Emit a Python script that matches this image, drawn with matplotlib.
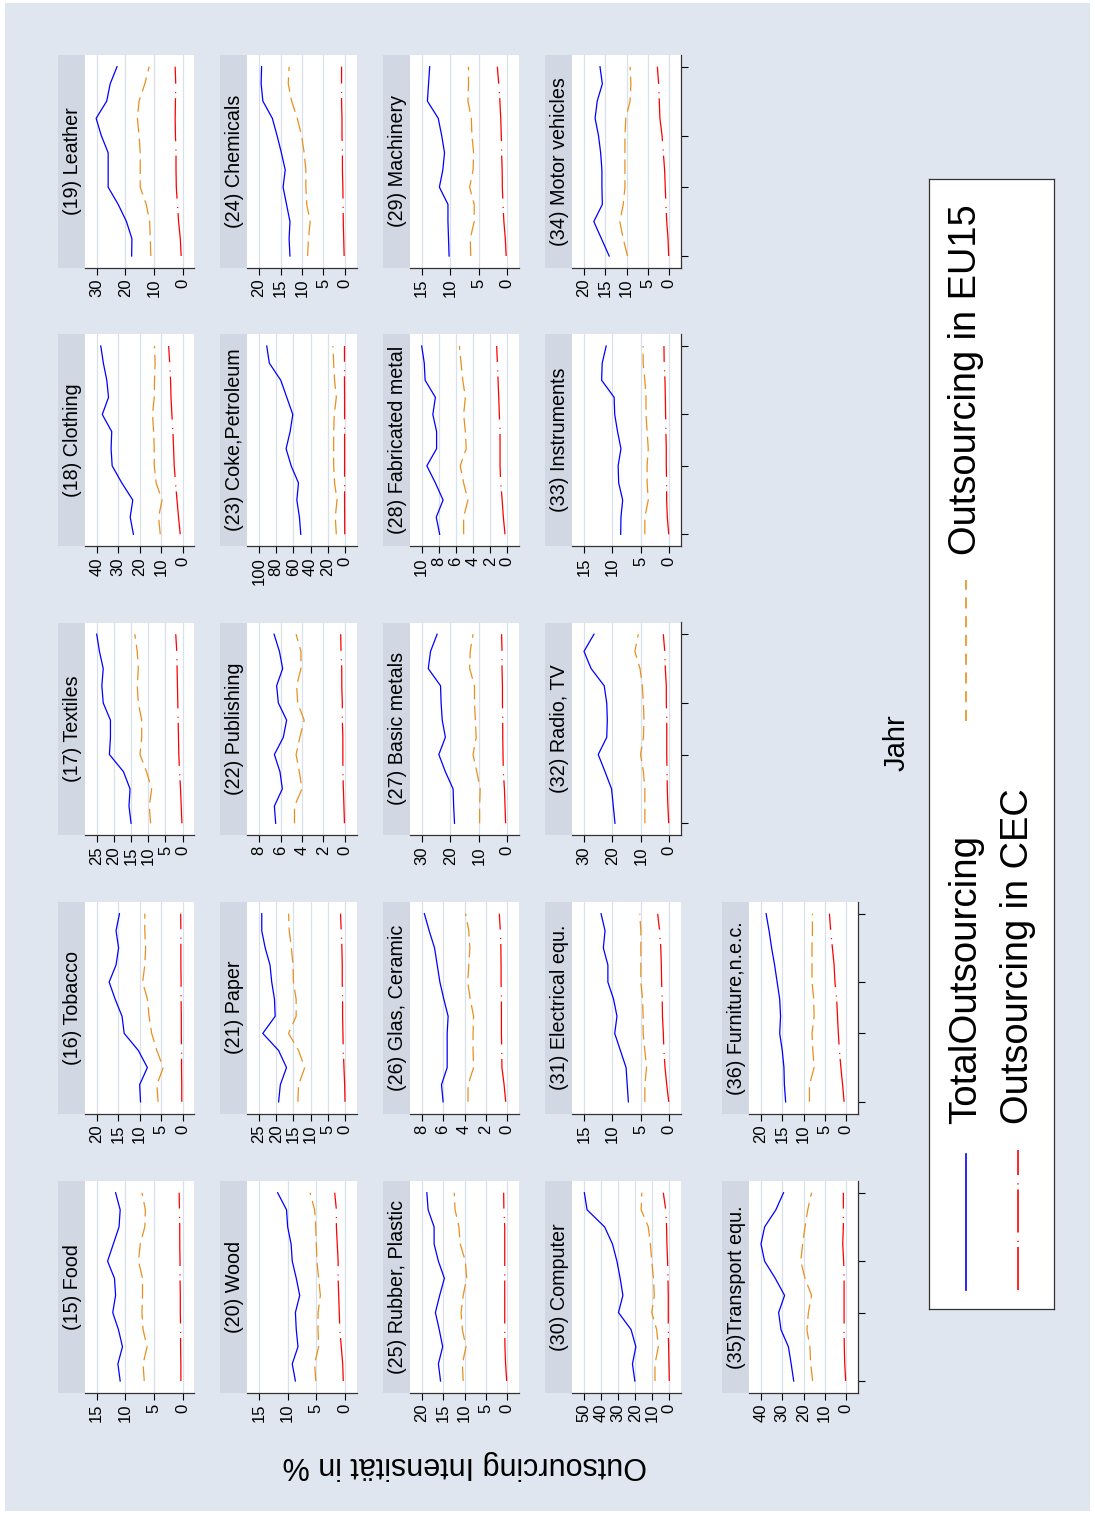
import matplotlib
matplotlib.use('Agg')
import matplotlib.pyplot as plt

plt.rcParams['font.family'] = ['Liberation Sans', 'DejaVu Sans']
plt.rcParams['lines.scale_dashes'] = False

# ---------------- data ----------------
YEARS = [1995, 1996, 1997, 1998, 1999, 2000, 2001, 2002, 2003, 2004, 2005, 2006]
YEAR_TICKS = [1995, 1999, 2002, 2006]

food_total = [10.9, 11.3, 10.5, 11.2, 12.2, 11.7, 11.9, 13.1, 12.1, 11.1, 10.9, 11.7]
food_eu15 = [6.7, 6.9, 6.2, 6.9, 7.1, 7.0, 7.0, 7.7, 7.4, 6.6, 6.5, 7.1]
food_cec = [0.3, 0.3, 0.35, 0.35, 0.4, 0.4, 0.45, 0.45, 0.5, 0.5, 0.55, 0.6]

tobacco_total = [9.8, 10.0, 8.2, 10.3, 13.6, 14.1, 15.7, 17.1, 15.5, 14.9, 15.5, 14.7]
tobacco_eu15 = [5.7, 6.0, 4.5, 6.0, 7.2, 7.8, 8.2, 9.3, 8.8, 8.6, 8.8, 8.8]
tobacco_cec = [0.2, 0.2, 0.25, 0.25, 0.3, 0.3, 0.35, 0.35, 0.4, 0.4, 0.4, 0.45]

textiles_total = [15.0, 15.6, 15.3, 17.2, 21.3, 21.0, 21.0, 23.1, 23.5, 23.1, 24.2, 25.0]
textiles_eu15 = [9.3, 9.7, 9.0, 10.5, 12.4, 11.9, 11.9, 12.9, 13.2, 12.9, 13.2, 13.9]
textiles_cec = [0.2, 0.4, 0.6, 0.9, 1.1, 1.2, 1.3, 1.4, 1.5, 1.6, 1.7, 2.0]

clothing_total = [22.9, 24.4, 23.2, 28.3, 32.8, 33.3, 33.0, 37.4, 34.5, 35.3, 36.9, 38.1]
clothing_eu15 = [10.4, 11.2, 9.6, 12.3, 13.2, 13.2, 13.5, 14.0, 13.2, 13.1, 12.8, 13.1]
clothing_cec = [1.1, 1.9, 2.6, 3.3, 3.9, 4.2, 4.5, 5.0, 5.4, 5.6, 6.0, 6.5]

leather_total = [17.8, 17.7, 19.6, 22.5, 26.0, 26.0, 26.0, 28.4, 30.2, 26.5, 25.3, 22.9]
leather_eu15 = [11.1, 11.3, 11.5, 12.7, 14.8, 14.8, 14.8, 15.2, 15.8, 15.2, 13.2, 11.7]
leather_cec = [0.5, 0.8, 1.4, 1.8, 2.2, 2.3, 2.3, 2.5, 2.6, 2.5, 2.4, 2.6]

wood_total = [8.65, 9.2, 8.2, 8.5, 8.65, 7.9, 8.5, 9.2, 9.4, 10.0, 10.2, 11.75]
wood_eu15 = [5.1, 5.3, 4.6, 4.7, 4.7, 4.3, 4.6, 4.9, 5.0, 5.1, 5.3, 6.1]
wood_cec = [0.3, 0.4, 0.65, 0.9, 1.0, 1.1, 1.2, 1.2, 1.35, 1.5, 1.5, 1.8]

paper_total = [19.3, 18.8, 17.0, 19.3, 23.9, 20.3, 20.5, 21.3, 21.8, 23.2, 24.2, 24.2]
paper_eu15 = [13.7, 13.5, 11.7, 13.5, 16.4, 14.2, 14.2, 15.0, 15.1, 15.6, 16.2, 16.4]
paper_cec = [0.0, 0.1, 0.3, 0.5, 0.6, 0.7, 0.7, 0.8, 0.8, 0.9, 1.1, 1.3]

publishing_total = [6.45, 6.57, 5.83, 6.05, 6.57, 5.74, 5.43, 6.2, 6.36, 5.8, 6.1, 6.6]
publishing_eu15 = [4.7, 4.7, 4.0, 4.25, 4.55, 4.2, 3.8, 4.4, 4.5, 4.1, 4.1, 4.55]
publishing_cec = [0.05, 0.1, 0.15, 0.2, 0.2, 0.2, 0.25, 0.25, 0.3, 0.3, 0.37, 0.4]

coke_total = [51.4, 53.0, 56.0, 54.1, 62.6, 68.5, 63.8, 60.7, 67.7, 74.7, 88.0, 91.0]
coke_eu15 = [10.1, 11.3, 9.3, 12.1, 13.2, 13.2, 13.2, 12.5, 10.1, 12.1, 13.2, 14.0]
coke_cec = [0.3, 0.4, 0.5, 0.5, 0.5, 0.5, 0.5, 0.5, 0.5, 0.6, 0.6, 0.6]

chemicals_total = [12.8, 13.0, 12.8, 13.6, 14.4, 13.9, 14.8, 15.8, 16.9, 19.1, 19.5, 19.4]
chemicals_eu15 = [8.7, 8.5, 8.1, 8.9, 9.1, 9.1, 9.5, 10.1, 11.1, 12.4, 13.2, 13.0]
chemicals_cec = [0.2, 0.3, 0.4, 0.45, 0.5, 0.6, 0.6, 0.7, 0.7, 0.8, 0.8, 0.8]

rubber_total = [15.6, 16.1, 15.1, 15.9, 16.8, 15.8, 14.7, 16.1, 17.1, 17.1, 18.5, 18.8]
rubber_eu15 = [10.3, 10.5, 9.65, 10.5, 10.8, 10.3, 9.5, 9.8, 11.0, 11.3, 12.2, 12.4]
rubber_cec = [0.15, 0.4, 0.55, 0.6, 0.6, 0.6, 0.6, 0.6, 0.6, 0.6, 0.8, 0.85]

glas_total = [6.0, 6.15, 5.62, 5.62, 5.62, 5.53, 5.93, 6.3, 6.55, 6.8, 7.3, 7.75]
glas_eu15 = [3.67, 3.67, 3.15, 3.2, 3.2, 3.15, 3.46, 3.7, 3.6, 3.5, 3.6, 3.9]
glas_cec = [0.15, 0.3, 0.5, 0.52, 0.55, 0.55, 0.55, 0.58, 0.58, 0.6, 0.65, 0.75]

basic_total = [18.5, 18.8, 19.0, 21.7, 24.0, 21.7, 22.8, 23.2, 23.4, 27.7, 26.9, 24.6]
basic_eu15 = [9.7, 9.7, 9.5, 10.7, 12.0, 10.9, 11.2, 11.5, 11.5, 13.2, 13.0, 12.0]
basic_cec = [0.6, 0.8, 1.0, 1.4, 1.5, 1.6, 1.6, 1.7, 1.7, 1.85, 1.85, 2.0]

fabricated_total = [7.9, 8.3, 7.5, 8.4, 9.4, 8.26, 8.26, 8.7, 8.4, 9.6, 9.7, 10.0]
fabricated_eu15 = [5.1, 5.1, 4.6, 5.1, 5.5, 4.8, 4.9, 5.1, 4.9, 5.2, 5.4, 5.6]
fabricated_cec = [0.27, 0.46, 0.6, 0.77, 0.85, 0.85, 0.85, 0.93, 1.0, 1.08, 1.16, 1.24]

machinery_total = [10.2, 10.3, 10.4, 10.4, 11.9, 11.3, 11.0, 11.5, 12.1, 14.0, 13.8, 13.6]
machinery_eu15 = [6.4, 6.5, 5.8, 5.8, 6.6, 6.0, 5.9, 6.2, 6.3, 6.9, 6.8, 6.8]
machinery_cec = [0.2, 0.35, 0.6, 0.75, 0.87, 0.9, 1.0, 1.05, 1.15, 1.3, 1.5, 1.75]

computer_total = [20.2, 21.6, 19.6, 22.4, 29.8, 27.2, 28.8, 30.7, 33.3, 37.9, 48.2, 49.8]
computer_eu15 = [8.4, 8.4, 6.4, 7.4, 10.3, 8.8, 9.3, 10.3, 11.1, 12.3, 16.5, 16.1]
computer_cec = [0.0, 0.2, 0.4, 0.6, 0.6, 0.6, 0.8, 1.0, 1.4, 1.6, 2.1, 3.5]

electrical_total = [7.2, 7.4, 7.6, 8.6, 9.6, 9.2, 9.8, 10.8, 10.8, 11.6, 11.3, 12.0]
electrical_eu15 = [4.3, 4.3, 4.0, 4.3, 4.6, 4.6, 4.7, 5.0, 5.0, 5.0, 5.0, 5.2]
electrical_cec = [0.1, 0.45, 0.75, 0.95, 1.05, 1.2, 1.25, 1.35, 1.4, 1.5, 1.7, 2.05]

radio_total = [19.1, 19.7, 20.3, 22.6, 25.0, 22.0, 21.8, 22.0, 22.9, 27.5, 30.0, 26.5]
radio_eu15 = [8.6, 8.6, 8.6, 9.1, 10.1, 9.1, 8.9, 9.1, 9.5, 10.3, 12.1, 10.9]
radio_cec = [0.2, 0.5, 0.7, 0.8, 0.9, 0.9, 0.9, 1.05, 1.05, 1.4, 1.6, 2.1]

instruments_total = [8.55, 8.5, 8.2, 8.9, 9.0, 8.5, 9.1, 9.6, 9.7, 11.9, 11.8, 11.1]
instruments_eu15 = [4.3, 4.3, 3.7, 3.9, 3.9, 3.7, 3.9, 4.1, 4.1, 4.3, 4.6, 4.6]
instruments_cec = [0.1, 0.35, 0.47, 0.47, 0.53, 0.53, 0.6, 0.65, 0.7, 0.76, 0.9, 0.94]

motor_total = [14.1, 15.9, 17.7, 15.7, 15.8, 15.8, 16.1, 16.6, 17.4, 16.9, 15.7, 16.25]
motor_eu15 = [9.8, 10.8, 11.6, 10.8, 10.4, 10.4, 10.4, 10.4, 10.2, 9.2, 9.0, 9.2]
motor_cec = [0.15, 0.3, 0.6, 0.8, 0.95, 1.1, 1.4, 1.7, 2.2, 2.35, 2.5, 2.8]

transport_total = [24.6, 25.8, 27.1, 30.6, 31.7, 28.9, 33.3, 38.3, 40.0, 38.3, 33.0, 29.4]
transport_eu15 = [15.7, 16.6, 17.0, 18.4, 17.7, 16.2, 19.3, 21.3, 20.4, 19.3, 18.0, 16.2]
transport_cec = [0.15, 0.6, 0.8, 0.9, 0.9, 0.9, 0.9, 1.1, 1.55, 1.25, 1.25, 1.25]

furniture_total = [14.2, 14.5, 14.6, 15.0, 15.6, 15.4, 15.6, 16.2, 16.8, 17.5, 18.1, 18.8]
furniture_eu15 = [8.6, 8.6, 7.5, 7.8, 8.0, 7.5, 7.6, 8.0, 8.0, 8.0, 7.9, 7.9]
furniture_cec = [0.45, 0.8, 1.2, 1.55, 1.8, 2.0, 2.2, 2.6, 2.8, 3.2, 3.6, 3.9]

TITLES = ["(15) Food", "(16) Tobacco", "(17) Textiles", "(18) Clothing", "(19) Leather",
          "(20) Wood", "(21) Paper", "(22) Publishing", "(23) Coke,Petroleum", "(24) Chemicals",
          "(25) Rubber, Plastic", "(26) Glas, Ceramic", "(27) Basic metals", "(28) Fabricated metal",
          "(29) Machinery", "(30) Computer", "(31) Electrical equ.", "(32) Radio, TV",
          "(33) Instruments", "(34) Motor vehicles", "(35)Transport equ.", "(36) Furniture,n.e.c."]
AXIS_MAX = [15, 20, 25, 40, 30, 15, 25, 8, 100, 20, 20, 8, 30, 10, 15, 50, 15, 30, 15, 20, 40, 20]
AXIS_STEP = [5, 5, 5, 10, 10, 5, 5, 2, 20, 5, 5, 2, 10, 2, 5, 10, 5, 10, 5, 5, 10, 5]
SERIES_NAMES = ["TotalOutsourcing", "Outsourcing in EU15", "Outsourcing in CEC"]

TOTALS = [food_total, tobacco_total, textiles_total, clothing_total, leather_total,
          wood_total, paper_total, publishing_total, coke_total, chemicals_total,
          rubber_total, glas_total, basic_total, fabricated_total, machinery_total,
          computer_total, electrical_total, radio_total, instruments_total, motor_total,
          transport_total, furniture_total]
EU15 = [food_eu15, tobacco_eu15, textiles_eu15, clothing_eu15, leather_eu15,
        wood_eu15, paper_eu15, publishing_eu15, coke_eu15, chemicals_eu15,
        rubber_eu15, glas_eu15, basic_eu15, fabricated_eu15, machinery_eu15,
        computer_eu15, electrical_eu15, radio_eu15, instruments_eu15, motor_eu15,
        transport_eu15, furniture_eu15]
CEC = [food_cec, tobacco_cec, textiles_cec, clothing_cec, leather_cec,
       wood_cec, paper_cec, publishing_cec, coke_cec, chemicals_cec,
       rubber_cec, glas_cec, basic_cec, fabricated_cec, machinery_cec,
       computer_cec, electrical_cec, radio_cec, instruments_cec, motor_cec,
       transport_cec, furniture_cec]

# ---------------- layout (rotated Stata by-graph) ----------------
W, H, DPI = 1095, 1514, 100
fig = plt.figure(figsize=(W / DPI, H / DPI), dpi=DPI)
fig.patch.set_facecolor('white')

BG = '#E0E6F0'
STRIP = '#D1D8E4'
GRID = '#DAE0EA'
C_TOTAL = '#0000FF'
C_EU = '#E8901F'
C_CEC = '#FF0000'
DASH_EU = (0, (10.5, 4.5))
DASH_CEC = (0, (31.0, 3.6, 0.8, 6.0))


def ax_px(x0, y0, x1, y1, **kw):
    return fig.add_axes([x0 / W, 1 - y1 / H, (x1 - x0) / W, (y1 - y0) / H], **kw)


bg = ax_px(5, 3, 1090, 1511)
bg.set_facecolor(BG)
bg.set_xticks([]); bg.set_yticks([])
for s in bg.spines.values():
    s.set_visible(False)

COLS = [(85, 194.3), (247.3, 356.7), (410, 519), (572.3, 681), (749.3, 857.7)]
ROWS_Y = [(1181, 1392.7), (902, 1113.5), (622.5, 835), (334.3, 546), (55, 267.7)]
STRIP_W = 27
MARGIN = 11.7  # px inner padding of Stata plot region

# panel index -> (row, col); rows: 0 = bottom (Food row) ... 4 = top (Leather row)
POS = {}
k = 0
for col in range(5):
    nrows = 5 if col < 4 else 2
    for row in range(nrows):
        POS[k] = (row, col)
        k += 1

for i in range(len(TITLES)):
    row, col = POS[i]
    x0, x1 = COLS[col]
    y0, y1 = ROWS_Y[row]
    ax = ax_px(x0, y0, x1, y1)
    ax.set_facecolor('white')
    ax.plot(TOTALS[i], YEARS, color=C_TOTAL, lw=0.9, solid_joinstyle='round')
    ax.plot(EU15[i], YEARS, color=C_EU, lw=0.9, linestyle=DASH_EU)
    ax.plot(CEC[i], YEARS, color=C_CEC, lw=0.9, linestyle=DASH_CEC)

    hi = AXIS_MAX[i]
    ticks = list(range(0, hi + 1, AXIS_STEP[i]))
    wpx = x1 - x0
    pad_v = hi * MARGIN / (wpx - 2 * MARGIN)
    ax.set_xlim(hi + pad_v, -pad_v)
    hpx = y1 - y0
    span = YEARS[-1] - YEARS[0]
    pad_y = span * MARGIN / (hpx - 2 * MARGIN)
    ax.set_ylim(YEARS[0] - pad_y, YEARS[-1] + pad_y)

    ax.set_xticks(ticks)
    ax.set_xticklabels([str(t) for t in ticks])
    ax.tick_params(axis='x', direction='out', length=4.8, width=0.8, pad=3.2,
                   labelsize=12, labelrotation=90, colors='black')
    ax.grid(axis='x', color=GRID, lw=0.9)
    ax.set_axisbelow(True)
    for s in ['top', 'left', 'right']:
        ax.spines[s].set_visible(False)
    ax.spines['bottom'].set_linewidth(0.9)
    ax.spines['bottom'].set_color('#333333')

    show_year_axis = (col == 4) or (col == 3 and row >= 2)
    if show_year_axis:
        ax.spines['right'].set_visible(True)
        ax.spines['right'].set_linewidth(0.9)
        ax.spines['right'].set_color('#333333')
        ax.yaxis.set_ticks_position('right')
        ax.set_yticks(YEAR_TICKS)
        ax.set_yticklabels([''] * len(YEAR_TICKS))
        ax.tick_params(axis='y', direction='out', length=5.2, width=0.8)
    else:
        ax.set_yticks([])

    sax = ax_px(x0 - STRIP_W, y0, x0, y1)
    sax.set_facecolor(STRIP)
    sax.set_xticks([]); sax.set_yticks([])
    for s in sax.spines.values():
        s.set_visible(False)
    sax.text(0.52, 0.5, TITLES[i], rotation=90, ha='center', va='center',
             fontsize=14.2, transform=sax.transAxes)

# axis titles
fig.text(897 / W, 1 - 743 / H, "Jahr", rotation=90, ha='center', va='center', fontsize=21)
fig.text(465 / W, 1 - 1465 / H, "Outsourcing Intensität in %", rotation=180,
         ha='center', va='center', fontsize=22)

# legend
lax = ax_px(929.3, 179, 1054.3, 1309)
lax.set_facecolor('white')
lax.set_xlim(929.3, 1054.3)
lax.set_ylim(1309, 179)
lax.set_xticks([]); lax.set_yticks([])
for s in lax.spines.values():
    s.set_linewidth(0.9)
    s.set_color('#333333')
lax.plot([966.5, 966.5], [1290, 1154], color=C_TOTAL, lw=1.2)
lax.plot([966.5, 966.5], [721, 580], color=C_EU, lw=1.2, linestyle=(0, (8.0, 5.5)))
lax.plot([1018, 1018], [1290, 1150], color=C_CEC, lw=1.2, linestyle=DASH_CEC)
lax.text(966.5, 1124, SERIES_NAMES[0], rotation=90, rotation_mode='anchor',
         ha='left', va='center', fontsize=27.7)
lax.text(966.5, 555, SERIES_NAMES[1], rotation=90, rotation_mode='anchor',
         ha='left', va='center', fontsize=27.4)
lax.text(1017.5, 1124, SERIES_NAMES[2], rotation=90, rotation_mode='anchor',
         ha='left', va='center', fontsize=27.4)

fig.savefig('out.png', dpi=DPI, facecolor=fig.get_facecolor())
